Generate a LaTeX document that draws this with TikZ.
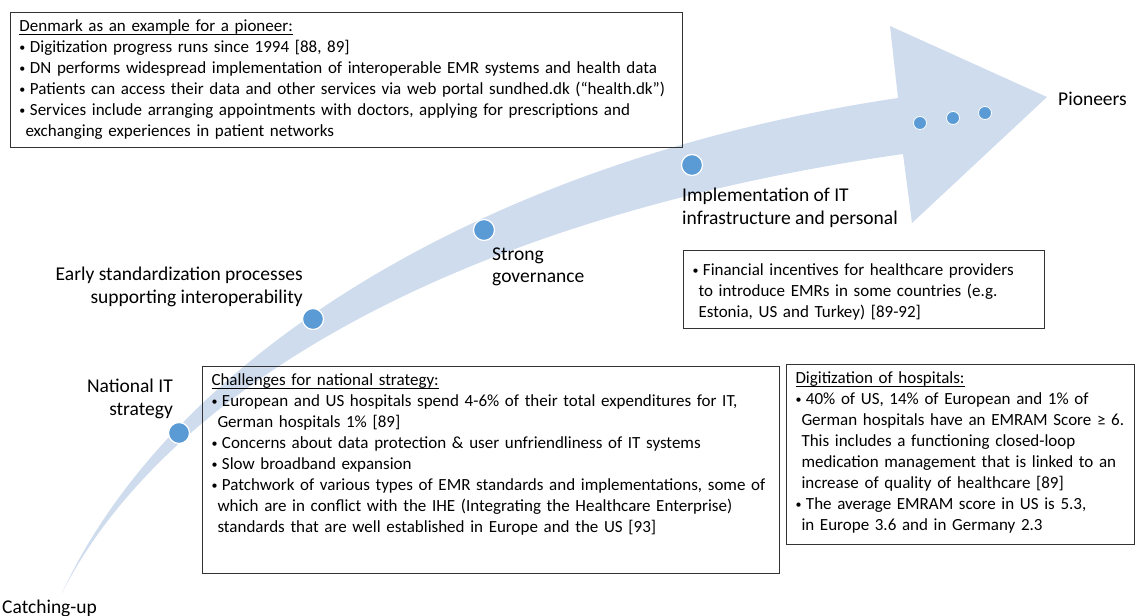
\documentclass[tikz,border=0pt]{standalone}
\usepackage{fontspec}
\setmainfont{Carlito}
\usetikzlibrary{positioning}

\definecolor{bandblue}{RGB}{207,220,238}
\definecolor{dotblue}{RGB}{91,155,213}

% bullet item with a small hanging indent
\newcommand{\itm}{\par\hangindent=6pt\hangafter=1 \raisebox{1.2pt}{\fontsize{12}{12}\selectfont\textbullet}\hspace{4.5pt}}
% underlined heading, rule through the descenders
\newcommand{\uln}[1]{$\underline{\smash{\mbox{#1}}\rule[-1.6pt]{0pt}{1pt}}$}
% first line height and extra room below the last line
\newcommand{\topstrut}{\rule{0pt}{15pt}}
\newcommand{\botdp}[1]{\rule[-#1]{0pt}{#1}}

\begin{document}
\begin{tikzpicture}[x=1pt, y=-1pt,
  info/.style={draw=black!80, line width=1pt, anchor=north west, inner xsep=9pt, inner ysep=4pt,
    font=\fontsize{17}{21}\selectfont, execute at begin node={\raggedright\hyphenpenalty=10000 }},
  lbl/.style={inner sep=0pt, font=\fontsize{19.5}{22.5}\selectfont},
  mile/.style={circle, fill=dotblue, draw=white, line width=1.2pt, minimum size=21pt, inner sep=0pt},
  smalldot/.style={circle, fill=dotblue, draw=white, line width=0.8pt, minimum size=13pt, inner sep=0pt}]
\useasboundingbox (0,0) rectangle (1136,616);

% the curved arrow
\fill[bandblue] (62,593) .. controls (170,360) and (480,160) .. (898,98) -- (890,26) -- (1047,97)
  -- (912,223) -- (903,154) .. controls (440,220) and (160,400) .. cycle;

% milestones on the arrow
\node[mile] (strat) at (179,433) {};
\node[mile] (std) at (313,319) {};
\node[mile] (gov) at (484,230) {};
\node[mile] (impl) at (692,165) {};
\foreach \x/\y [count=\i] in {920/123, 953/118, 985/113}
  \node[smalldot] (d\i) at (\x,\y) {};

% labels
\node[lbl, anchor=west] (catch) at (2,608) {Catching-up};
\node[lbl, align=right, anchor=east] (stratlbl) at (173,399) {National IT\\strategy};
\node[lbl, align=right, anchor=east] (stdlbl) at (303,287) {Early standardization processes\\supporting interoperability};
\node[lbl, align=left, anchor=west] (govlbl) at (492,267) {Strong\\governance};
\node[lbl, align=left, anchor=west] (impllbl) at (682,208) {Implementation of IT\\infrastructure and personal};
\node[lbl, anchor=west] (pion) at (1058,99) {Pioneers};

% text boxes
\node[info, text width=654pt] (dk) at (10,12) {\topstrut\uln{Denmark as an example for a pioneer:}
  \itm Digitization progress runs since 1994 [88, 89]
  \itm DN performs widespread implementation of interoperable EMR systems and health data
  \itm Patients can access their data and other services via web portal sundhed.dk (“health.dk”)
  \itm Services include arranging appointments with doctors, applying for prescriptions and\newline exchanging experiences in patient networks\botdp{7pt}\par};
\node[info, text width=343pt] (fin) at (683,250) {\itm\topstrut Financial incentives for healthcare providers\newline to introduce EMRs in some countries (e.g.\newline Estonia, US and Turkey) [89-92]\botdp{7pt}\par};
\node[info, text width=559pt] (chal) at (202,366) {\topstrut\uln{Challenges for national strategy:}
  \itm European and US hospitals spend 4-6\% of their total expenditures for IT,\newline German hospitals 1\% [89]
  \itm Concerns about data protection \& user unfriendliness of IT systems
  \itm Slow broadband expansion
  \itm Patchwork of various types of EMR standards and implementations, some of\newline which are in conflict with the IHE (Integrating the Healthcare Enterprise)\newline standards that are well established in Europe and the US [93]\botdp{37pt}\par};
\node[info, text width=330pt] (hosp) at (786,364) {\topstrut\uln{Digitization of hospitals:}
  \itm 40\% of US, 14\% of European and 1\% of\newline German hospitals have an EMRAM Score ≥ 6.\newline This includes a functioning closed-loop\newline medication management that is linked to an\newline increase of quality of healthcare [89]
  \itm The average EMRAM score in US is 5.3,\newline in Europe 3.6 and in Germany 2.3\botdp{10pt}\par};
\end{tikzpicture}
\end{document}
